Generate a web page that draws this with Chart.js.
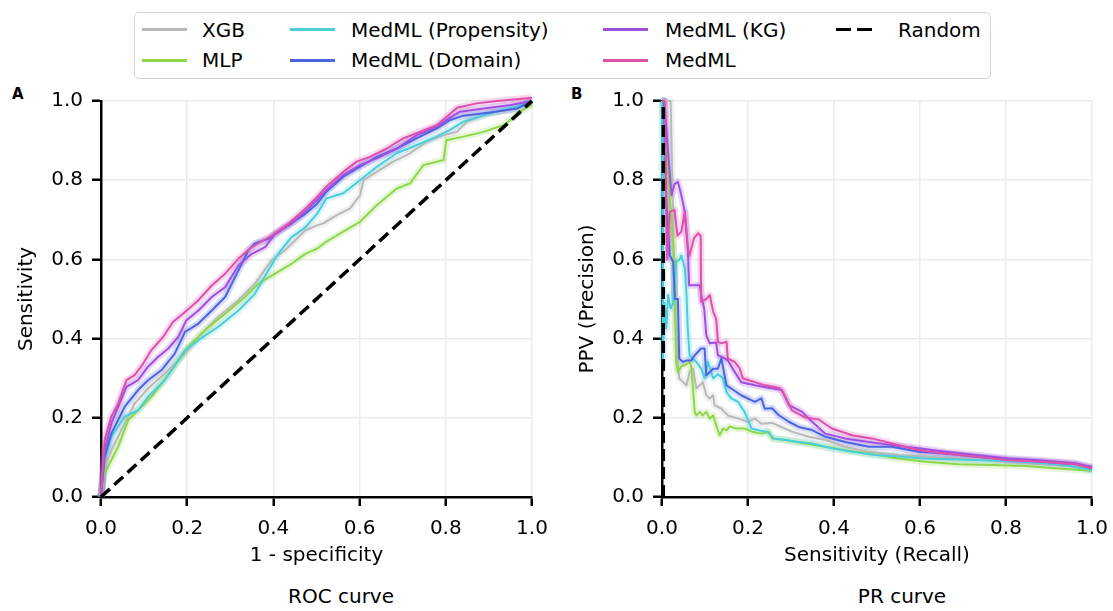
<!DOCTYPE html>
<html>
<head>
<meta charset="utf-8">
<script src="https://cdn.jsdelivr.net/npm/chart.js@4.4.1/dist/chart.umd.min.js"></script>
<style>
  body { margin: 0; width: 1113px; height: 611px; background: #fff; position: relative; overflow: hidden; font-family: 'DejaVu Sans', sans-serif; color: #000; }
  canvas { position: absolute; display: block; }
  #legend { position: absolute; left: 134px; top: 12px; width: 857px; height: 67px; border: 1.5px solid #d3d3d3; border-radius: 5px; box-sizing: border-box; }
  .sw { position: absolute; height: 3px; width: 45px; }
  .lb { position: absolute; font-size: 20px; line-height: 24px; white-space: nowrap; }
  .tag { position: absolute; font-size: 15px; line-height: 15px; font-weight: bold; }
  .cap { position: absolute; font-size: 20px; line-height: 24px; white-space: nowrap; transform: translateX(-50%); }
</style>
</head>
<body>
<div id="legend"></div>
<div class="tag" style="left:12px;top:87px">A</div>
<div class="tag" style="left:571px;top:87px">B</div>
<canvas id="rocChart" width="550" height="484" style="left:0;top:85px"></canvas>
<canvas id="prChart" width="551" height="484" style="left:562px;top:85px"></canvas>
<div class="cap" style="left:341px;top:584px">ROC curve</div>
<div class="cap" style="left:902px;top:584px">PR curve</div>
<script>
// ── Series names / colours ─────────────────────────────────────
const names = ['XGB', 'MLP', 'MedML (Propensity)', 'MedML (Domain)', 'MedML (KG)', 'MedML'];
const colors = ['#b9b9b9', '#8cd74b', '#4bcddc', '#4b64e1', '#a050e0', '#de50ac'];
const ticks = [0, 0.2, 0.4, 0.6, 0.8, 1.0];

// ── ROC curves: [1 - specificity, sensitivity] ─────────────────
const rocXGB = [[0,0],[0.0085,0.076],[0.024,0.118],[0.055,0.186],[0.078,0.236],[0.109,0.274],[0.148,0.312],[0.195,0.362],[0.226,0.404],[0.272,0.455],[0.319,0.497],[0.357,0.539],[0.396,0.598],[0.427,0.623],[0.474,0.673],[0.501,0.686],[0.516,0.691],[0.547,0.712],[0.578,0.729],[0.601,0.762],[0.609,0.8],[0.64,0.821],[0.678,0.847],[0.717,0.868],[0.756,0.897],[0.795,0.914],[0.826,0.922],[0.849,0.948],[0.903,0.969],[0.965,0.981],[1,1]];
const rocMLP = [[0,0],[0.005,0.051],[0.016,0.076],[0.04,0.127],[0.063,0.194],[0.086,0.219],[0.117,0.253],[0.164,0.32],[0.202,0.379],[0.241,0.421],[0.288,0.463],[0.334,0.505],[0.365,0.539],[0.404,0.564],[0.442,0.589],[0.474,0.614],[0.501,0.627],[0.523,0.645],[0.562,0.67],[0.601,0.695],[0.64,0.737],[0.686,0.779],[0.717,0.792],[0.748,0.838],[0.795,0.851],[0.801,0.901],[0.841,0.91],[0.888,0.922],[0.934,0.939],[0.973,0.973],[1,0.99]];
const rocProp = [[0,0],[0.0085,0.093],[0.024,0.152],[0.055,0.203],[0.086,0.219],[0.109,0.253],[0.148,0.295],[0.195,0.371],[0.226,0.396],[0.272,0.43],[0.319,0.471],[0.357,0.513],[0.388,0.572],[0.411,0.614],[0.442,0.656],[0.474,0.681],[0.501,0.715],[0.523,0.754],[0.562,0.767],[0.601,0.8],[0.64,0.834],[0.686,0.868],[0.733,0.889],[0.779,0.91],[0.81,0.927],[0.841,0.948],[0.903,0.969],[0.965,0.986],[1,1]];
const rocDomain = [[0,0],[0.0085,0.102],[0.024,0.16],[0.055,0.228],[0.086,0.27],[0.109,0.295],[0.14,0.32],[0.171,0.362],[0.195,0.417],[0.226,0.438],[0.257,0.471],[0.288,0.505],[0.311,0.555],[0.342,0.623],[0.357,0.64],[0.388,0.652],[0.427,0.681],[0.474,0.715],[0.501,0.74],[0.523,0.771],[0.562,0.809],[0.601,0.834],[0.64,0.859],[0.686,0.88],[0.733,0.906],[0.779,0.931],[0.81,0.952],[0.841,0.963],[0.903,0.971],[0.965,0.981],[1,1]];
const rocKG = [[0,0],[0.0085,0.118],[0.024,0.186],[0.059,0.278],[0.086,0.295],[0.109,0.329],[0.133,0.354],[0.156,0.375],[0.179,0.404],[0.198,0.446],[0.226,0.471],[0.257,0.505],[0.288,0.53],[0.319,0.585],[0.35,0.614],[0.381,0.631],[0.404,0.665],[0.442,0.69],[0.481,0.728],[0.523,0.775],[0.562,0.813],[0.601,0.838],[0.64,0.855],[0.686,0.88],[0.733,0.914],[0.779,0.935],[0.81,0.958],[0.833,0.973],[0.888,0.981],[0.95,0.99],[1,1]];
const rocMedML = [[0,0],[0.0085,0.144],[0.024,0.203],[0.04,0.236],[0.059,0.295],[0.078,0.308],[0.098,0.337],[0.117,0.371],[0.144,0.404],[0.167,0.442],[0.195,0.467],[0.226,0.497],[0.257,0.534],[0.288,0.564],[0.319,0.602],[0.35,0.631],[0.396,0.66],[0.435,0.69],[0.474,0.728],[0.501,0.757],[0.523,0.784],[0.562,0.821],[0.593,0.847],[0.624,0.859],[0.663,0.88],[0.702,0.906],[0.74,0.922],[0.779,0.939],[0.802,0.96],[0.826,0.983],[0.872,0.994],[0.919,1.0],[1,1.008]];
const rocRandom = [[0,0],[1,1]];

// ── PR curves: [recall, precision] ─────────────────────────────
const prXGB = [[0,1],[0.02,1],[0.025,0.75],[0.03,0.45],[0.04,0.3],[0.049,0.29],[0.057,0.282],[0.064,0.316],[0.072,0.324],[0.08,0.274],[0.088,0.282],[0.095,0.29],[0.103,0.257],[0.111,0.249],[0.119,0.257],[0.122,0.232],[0.138,0.223],[0.153,0.206],[0.177,0.198],[0.2,0.19],[0.216,0.198],[0.231,0.185],[0.256,0.187],[0.271,0.18],[0.302,0.165],[0.341,0.152],[0.38,0.144],[0.426,0.127],[0.481,0.114],[0.55,0.106],[0.612,0.102],[0.69,0.097],[0.767,0.093],[0.845,0.089],[0.922,0.083],[1,0.07]];
const prMLP = [[0,1],[0.015,0.8],[0.029,0.594],[0.033,0.34],[0.037,0.316],[0.045,0.33],[0.057,0.335],[0.064,0.341],[0.068,0.33],[0.076,0.215],[0.08,0.206],[0.088,0.215],[0.095,0.206],[0.103,0.215],[0.111,0.198],[0.119,0.206],[0.126,0.181],[0.134,0.156],[0.142,0.173],[0.15,0.168],[0.157,0.178],[0.173,0.173],[0.192,0.173],[0.212,0.164],[0.231,0.16],[0.248,0.165],[0.256,0.148],[0.287,0.144],[0.333,0.135],[0.38,0.127],[0.426,0.118],[0.481,0.11],[0.55,0.097],[0.612,0.089],[0.69,0.083],[0.767,0.081],[0.845,0.078],[0.922,0.072],[1,0.066]];
const prProp = [[0,1],[0.002,0.34],[0.006,0.49],[0.01,0.425],[0.014,0.51],[0.02,0.476],[0.026,0.49],[0.033,0.594],[0.041,0.6],[0.045,0.61],[0.053,0.577],[0.057,0.51],[0.06,0.425],[0.064,0.358],[0.08,0.341],[0.091,0.324],[0.099,0.3],[0.107,0.341],[0.119,0.3],[0.13,0.31],[0.142,0.3],[0.15,0.265],[0.161,0.249],[0.177,0.24],[0.192,0.215],[0.208,0.173],[0.231,0.167],[0.245,0.165],[0.26,0.148],[0.287,0.144],[0.318,0.139],[0.349,0.135],[0.395,0.123],[0.442,0.114],[0.496,0.106],[0.55,0.102],[0.612,0.097],[0.69,0.095],[0.767,0.092],[0.845,0.089],[0.922,0.083],[1,0.068]];
const prDomain = [[0,1],[0.004,1],[0.01,0.75],[0.018,0.61],[0.026,0.594],[0.03,0.5],[0.037,0.5],[0.04,0.35],[0.049,0.341],[0.057,0.345],[0.068,0.345],[0.076,0.358],[0.091,0.375],[0.099,0.375],[0.103,0.307],[0.119,0.324],[0.13,0.324],[0.138,0.35],[0.15,0.282],[0.161,0.274],[0.184,0.257],[0.216,0.24],[0.231,0.249],[0.239,0.223],[0.256,0.224],[0.271,0.207],[0.295,0.19],[0.318,0.177],[0.349,0.169],[0.38,0.152],[0.426,0.139],[0.481,0.127],[0.535,0.127],[0.597,0.114],[0.659,0.11],[0.729,0.102],[0.806,0.095],[0.884,0.089],[0.961,0.083],[1,0.072]];
const prKG = [[0,1],[0.005,1],[0.022,0.762],[0.029,0.79],[0.037,0.796],[0.045,0.762],[0.053,0.72],[0.06,0.628],[0.063,0.535],[0.088,0.535],[0.091,0.51],[0.098,0.476],[0.103,0.409],[0.111,0.388],[0.126,0.39],[0.13,0.358],[0.146,0.35],[0.153,0.345],[0.169,0.316],[0.184,0.29],[0.216,0.282],[0.247,0.276],[0.279,0.27],[0.295,0.232],[0.326,0.215],[0.349,0.19],[0.38,0.16],[0.426,0.148],[0.481,0.139],[0.535,0.131],[0.597,0.123],[0.659,0.114],[0.729,0.106],[0.806,0.097],[0.884,0.092],[0.961,0.085],[1,0.076]];
const prMedML = [[0,1],[0.006,1],[0.012,0.6],[0.018,0.72],[0.029,0.725],[0.036,0.66],[0.045,0.67],[0.053,0.72],[0.06,0.628],[0.064,0.61],[0.074,0.653],[0.084,0.666],[0.09,0.66],[0.091,0.493],[0.103,0.5],[0.111,0.51],[0.119,0.468],[0.126,0.45],[0.13,0.392],[0.138,0.388],[0.15,0.392],[0.153,0.35],[0.169,0.341],[0.181,0.324],[0.188,0.3],[0.216,0.29],[0.239,0.282],[0.262,0.278],[0.275,0.274],[0.287,0.253],[0.302,0.219],[0.333,0.201],[0.364,0.196],[0.395,0.173],[0.442,0.156],[0.488,0.148],[0.535,0.135],[0.597,0.118],[0.659,0.11],[0.729,0.102],[0.806,0.093],[0.884,0.089],[0.961,0.083],[1,0.072]];
const prRandom = [[0.003,0],[0.003,1]];

function hexToRgba(hex, alpha) {
  const r = parseInt(hex.slice(1,3),16), g = parseInt(hex.slice(3,5),16), b = parseInt(hex.slice(5,7),16);
  return `rgba(${r},${g},${b},${alpha})`;
}
const toXY = pts => pts.map(p => ({ x: p[0], y: p[1] }));

// ── Legend (html, laid out like the figure's 4-column legend) ──
const legendCols = [[0, 1], [2, 3], [4, 5], [6]];
const swLeft = [142, 290, 603, 836], lbLeft = [202, 351, 665, 898], rowY = [29, 60], rowTop = [18, 48];
const legendEl = document.getElementById('legend');
legendCols.forEach((col, c) => col.forEach((idx, r) => {
  const sw = document.createElement('div');
  sw.className = 'sw';
  sw.style.left = (swLeft[c] - 135) + 'px';
  sw.style.top = (rowY[r] - 13 - 1.5) + 'px';
  if (idx < 6) sw.style.background = colors[idx];
  else { sw.style.width = '38px'; sw.style.height = '3.5px'; sw.style.background = 'repeating-linear-gradient(90deg,#000 0 15px,transparent 15px 21px)'; }
  const lb = document.createElement('div');
  lb.className = 'lb';
  lb.style.left = (lbLeft[c] - 135) + 'px';
  lb.style.top = (rowTop[r] - 13) + 'px';
  lb.textContent = idx < 6 ? names[idx] : 'Random';
  legendEl.appendChild(sw); legendEl.appendChild(lb);
}));

// ── Chart builder ──────────────────────────────────────────────
Chart.defaults.font.family = "'DejaVu Sans', sans-serif";
Chart.defaults.color = '#000';

function buildSets(series, random) {
  const common = { showLine: true, pointRadius: 0, tension: 0, fill: false, clip: 8, borderJoinStyle: 'round' };
  const sets = [];
  series.forEach((pts, i) => {
    sets.push({ ...common, data: toXY(pts), borderColor: hexToRgba(colors[i], 0.22), borderWidth: 7, order: 30 - i });
  });
  series.forEach((pts, i) => {
    sets.push({ ...common, data: toXY(pts), borderColor: colors[i], borderWidth: 2, order: 10 - i });
  });
  sets.push({ ...common, data: toXY(random), borderColor: '#000', borderWidth: 3.5, borderDash: [12, 6], borderJoinStyle: 'miter', order: 0 });
  return sets;
}

function axis(title, isX, titlePad, size) {
  return {
    type: 'linear', min: 0, max: 1,
    afterBuildTicks: s => { s.ticks = ticks.map(v => ({ value: v })); },
    ticks: { padding: isX ? 11 : 9, font: { size: 20 }, color: '#000', maxRotation: 0, callback: v => v.toFixed(1) },
    grid: { color: '#ebebeb', lineWidth: 1.5, tickColor: '#000', tickLength: 9, tickWidth: 2.5 },
    border: { color: '#000', width: 2.5 },
    title: { display: true, text: title, font: { size: 20 }, color: '#000', padding: titlePad },
    // fixed axis box, and no extra room for the end labels
    afterFit: s => {
      if (isX) { s.height = size; s.paddingLeft = 0; s.paddingRight = 0; }
      else { s.width = size; s.paddingTop = 0; s.paddingBottom = 0; }
    }
  };
}

function makePanel(id, series, random, xTitle, yTitle, yWidth, yPad, padRight) {
  return new Chart(document.getElementById(id), {
    type: 'scatter',
    data: { datasets: buildSets(series, random) },
    options: {
      responsive: false, maintainAspectRatio: false, animation: false,
      layout: { padding: { top: 16, right: padRight, left: 0, bottom: 0 } },
      plugins: { legend: { display: false }, tooltip: { enabled: false } },
      scales: {
        x: axis(xTitle, true, { top: 0, bottom: 1 }, 72),
        y: axis(yTitle, false, { top: yPad, bottom: 0 }, yWidth)
      }
    }
  });
}

const Charts = {};
Charts.roc = makePanel('rocChart', [rocXGB, rocMLP, rocProp, rocDomain, rocKG, rocMedML], rocRandom, '1 - specificity', 'Sensitivity', 101, 15, 18);
Charts.pr = makePanel('prChart', [prXGB, prMLP, prProp, prDomain, prKG, prMedML], prRandom, 'Sensitivity (Recall)', 'PPV (Precision)', 100, 14, 21);
</script>
</body>
</html>
